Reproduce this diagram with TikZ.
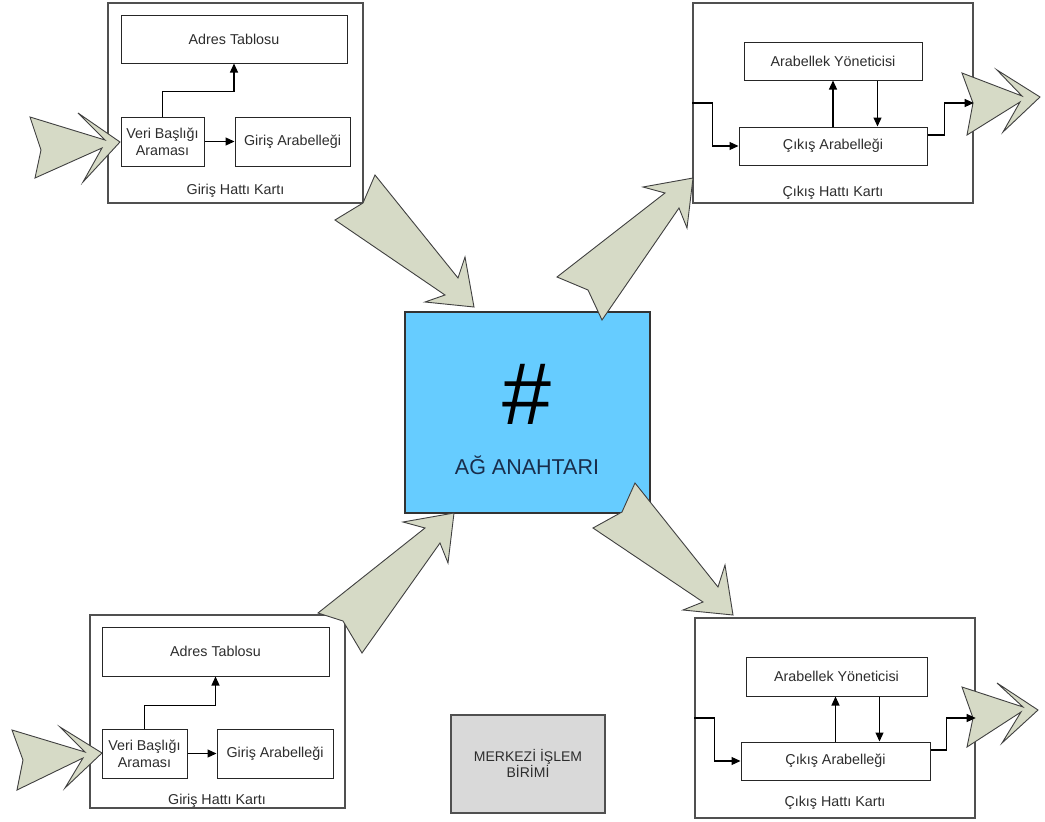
\documentclass[tikz,border=0pt]{standalone}
\usepackage{fontspec}
\setmainfont{Liberation Sans}
\usetikzlibrary{arrows.meta,fit,calc}
\definecolor{arrowfill}{RGB}{214,218,198}
\definecolor{switchblue}{RGB}{102,204,255}
\definecolor{cpugray}{RGB}{217,217,217}
\definecolor{txt}{RGB}{45,45,45}
\definecolor{cardline}{RGB}{80,80,80}
\definecolor{swtext}{RGB}{25,45,75}
\begin{document}
\begin{tikzpicture}[x=1pt,y=-1pt,
  font=\fontsize{14.3}{17}\selectfont,
  card/.style={draw=cardline, line width=1.4pt, fill=white, inner sep=0pt},
  inbox/.style={draw=black!85, line width=1pt, fill=white, inner sep=0pt, text=txt, align=center},
  cardlabel/.style={text=txt, inner sep=0pt},
  conn/.style={draw=black, line width=1.2pt, -{Triangle[length=9pt,width=8pt]}},
  bigarrow/.style={fill=arrowfill, draw=black!75, line width=0.9pt, line join=miter}]
\useasboundingbox (0,0) rectangle (1045,822);
\fill[white] (0,0) rectangle (1045,822);

% cards
\node[card, fit={(108,3)(363,203)}] (c1) {};
\node[card, fit={(693,3)(973,203)}] (c2) {};
\node[card, fit={(90,615)(345,808)}] (c3) {};
\node[card, fit={(695,618)(975,818)}] (c4) {};

% switch and CPU
\node[draw=black!80, line width=1.2pt, fill=switchblue, fit={(405,312)(650,513)}, inner sep=0pt] (sw) {};
\node[text=black, inner sep=0pt, font=\fontsize{88}{88}\selectfont] (hash) at (527,394) {\#};
\node[text=swtext, inner sep=0pt, font=\fontsize{21.5}{24}\selectfont] (swlbl) at (527,465) {AĞ ANAHTARI};
\node[draw=cardline, line width=1.4pt, fill=cpugray, fit={(451,715)(605,813)}, inner sep=0pt] (cpu) {};
\node[text=txt, align=center, inner sep=0pt, font=\fontsize{14}{16}\selectfont] (cpulbl) at (528,763) {MERKEZİ İŞLEM\\BİRİMİ};

% big arrows
\draw[bigarrow] (375,175) -- (363,203) -- (335,220) -- (445,295) -- (425,302) -- (474,307) -- (465,257) -- (458,278) -- cycle;
\draw[bigarrow] (557,277) -- (588,290) -- (602,320) -- (679,208) -- (687,228) -- (693,178) -- (643,187) -- (665,193) -- cycle;
\draw[bigarrow] (318,613) -- (343,621) -- (362,653) -- (440,543) -- (448,563) -- (454,513) -- (403,522) -- (425,528) -- cycle;
\draw[bigarrow] (635,483) -- (622,512) -- (593,528) -- (703,602) -- (683,610) -- (733,615) -- (725,565) -- (718,587) -- cycle;
\draw[bigarrow] (30,117) -- (41,150) -- (35,178) -- (102,148) -- (83,182) -- (120,142) -- (78,113) -- (105,140) -- cycle;
\draw[bigarrow] (12,730) -- (23,760) -- (17,790) -- (83,758) -- (65,788) -- (102,753) -- (60,727) -- (85,752) -- cycle;
\draw[bigarrow] (962,73) -- (973,103) -- (967,135) -- (1020,102) -- (1003,132) -- (1040,97) -- (997,70) -- (1022,96) -- cycle;
\draw[bigarrow] (962,687) -- (973,718) -- (967,747) -- (1021,712) -- (1002,743) -- (1038,710) -- (997,683) -- (1023,707) -- cycle;

% input card top-left
\node[inbox, fit={(121,15)(347,63)}] (a1) {};
\node[text=txt, inner sep=0pt] at (a1.center) {Adres Tablosu};
\node[inbox, fit={(121,117)(204,166)}] (v1) {};
\node[text=txt, inner sep=0pt, align=center] at (v1.center) {Veri Başlığı\\Araması};
\node[inbox, fit={(235,117)(350,166)}] (g1) {};
\node[text=txt, inner sep=0pt] at (g1.center) {Giriş Arabelleği};
\node[cardlabel] (l1) at (235.5,191) {Giriş Hattı Kartı};
\draw[conn] (v1.north) -- ++(0,-25) -| (a1.south);
\draw[conn] (v1.east) -- (g1.west);

% input card bottom-left
\node[inbox, fit={(102,627)(329,676)}] (a3) {};
\node[text=txt, inner sep=0pt] at (a3.center) {Adres Tablosu};
\node[inbox, fit={(102,729)(187,778)}] (v3) {};
\node[text=txt, inner sep=0pt, align=center] at (v3.center) {Veri Başlığı\\Araması};
\node[inbox, fit={(217,729)(333,778)}] (g3) {};
\node[text=txt, inner sep=0pt] at (g3.center) {Giriş Arabelleği};
\node[cardlabel] (l3) at (217,801) {Giriş Hattı Kartı};
\draw[conn] (v3.north) -- ++(0,-23) -| (a3.south);
\draw[conn] (v3.east) -- (g3.west);

% output card top-right
\node[inbox, fit={(744,42)(922,80)}] (b2) {};
\node[text=txt, inner sep=0pt] at (b2.center) {Arabellek Yöneticisi};
\node[inbox, fit={(739,127)(927,165)}] (o2) {};
\node[text=txt, inner sep=0pt] at (o2.center) {Çıkış Arabelleği};
\node[cardlabel] (l2) at (833,193) {Çıkış Hattı Kartı};
\draw[conn] (c2.west) -- ++(20,0) |- (o2.west);
\draw[conn] (o2.north) -- (o2.north |- b2.south);
\draw[conn] ([xshift=-45pt]b2.south east) -- ([xshift=-45pt]b2.south east |- o2.north);
\draw[conn] ([yshift=11pt]o2.east) -- ++(17,0) |- (c2.east);

% output card bottom-right
\node[inbox, fit={(746,657)(927,696)}] (b4) {};
\node[text=txt, inner sep=0pt] at (b4.center) {Arabellek Yöneticisi};
\node[inbox, fit={(741,742)(930,780)}] (o4) {};
\node[text=txt, inner sep=0pt] at (o4.center) {Çıkış Arabelleği};
\node[cardlabel] (l4) at (835,803) {Çıkış Hattı Kartı};
\draw[conn] (c4.west) -- ++(20,0) |- (o4.west);
\draw[conn] (o4.north) -- (o4.north |- b4.south);
\draw[conn] ([xshift=-48pt]b4.south east) -- ([xshift=-48pt]b4.south east |- o4.north);
\draw[conn] ([yshift=11pt]o4.east) -- ++(16,0) |- (c4.east);
\end{tikzpicture}
\end{document}
